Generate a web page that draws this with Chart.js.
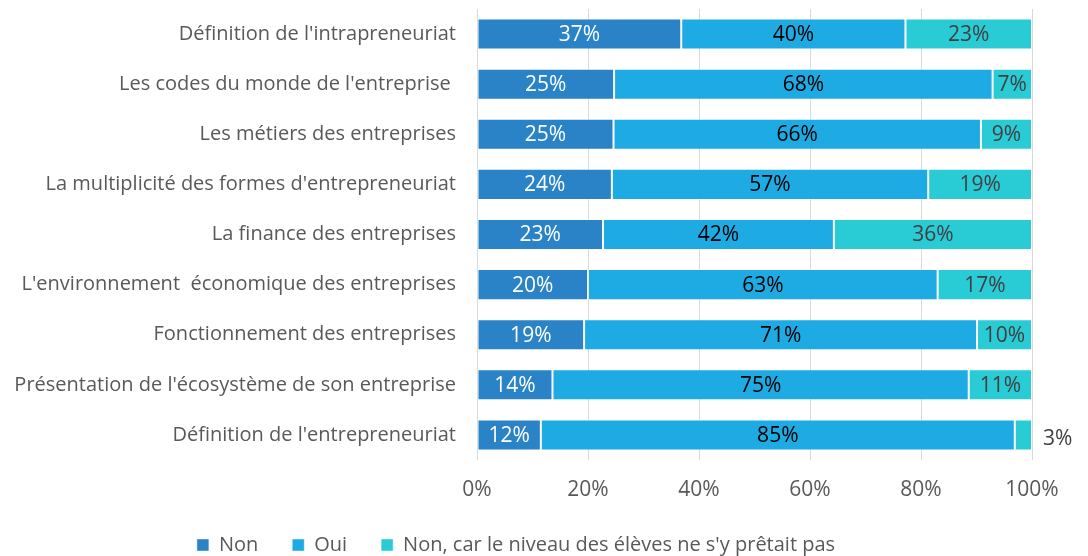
<!DOCTYPE html>
<html>
<head>
<meta charset="utf-8">
<script src="https://cdn.jsdelivr.net/npm/chart.js@4"></script>
<style>
  html, body { margin: 0; padding: 0; background: #fff; }
  #wrap { width: 1088px; height: 556px; }
</style>
</head>
<body>
<div id="wrap"><canvas id="chart"></canvas></div>
<script>
const categories = [
    "Définition de l'intrapreneuriat",
    "Les codes du monde de l'entreprise ",
    "Les métiers des entreprises",
    "La multiplicité des formes d'entrepreneuriat",
    "La finance des entreprises",
    "L'environnement  économique des entreprises",
    "Fonctionnement des entreprises",
    "Présentation de l'écosystème de son entreprise",
    "Définition de l'entrepreneuriat",
];
const seriesNames = ['Non', 'Oui', "Non, car le niveau des élèves ne s'y prêtait pas"];
const nonValues = [36.8, 24.7, 24.6, 24.3, 22.7, 20.0, 19.3, 13.6, 11.5];
const ouiValues = [40.4, 68.2, 66.2, 57.0, 41.6, 63.0, 70.8, 75.0, 85.4];
const niveauValues = [22.8, 7.1, 9.2, 18.7, 35.7, 17.0, 9.9, 11.4, 3.1];
const xTicks = [0, 20, 40, 60, 80, 100];

const colors = ['#2983C6', '#1EAAE2', '#29CBD5'];
const labelColors = ['#ffffff', '#000000', '#404040'];
const font = "'Open Sans', sans-serif";

// % labels inside each segment, outside on the right when it does not fit
const segmentLabels = {
    id: 'segmentLabels',
    afterDatasetsDraw(chart) {
        const ctx = chart.ctx;
        ctx.save();
        ctx.font = '21px ' + font;
        ctx.textBaseline = 'middle';
        chart.data.datasets.forEach((ds, di) => {
            chart.getDatasetMeta(di).data.forEach((bar, i) => {
                const txt = Math.round(ds.data[i]) + '%';
                const w = Math.abs(bar.x - bar.base);
                const tw = ctx.measureText(txt).width;
                if (tw + 4 < w) {
                    ctx.fillStyle = labelColors[di];
                    ctx.textAlign = 'center';
                    ctx.fillText(txt, (bar.x + bar.base) / 2, bar.y + 1);
                } else {
                    ctx.fillStyle = '#404040';
                    ctx.textAlign = 'left';
                    ctx.fillText(txt, bar.x + 11, bar.y + 4);
                }
            });
        });
        ctx.restore();
    }
};

const allValues = [nonValues, ouiValues, niveauValues];

new Chart(document.getElementById('chart'), {
    type: 'bar',
    data: {
        labels: categories,
        datasets: seriesNames.map((name, i) => ({
            label: name,
            data: allValues[i],
            backgroundColor: colors[i],
            borderColor: 'rgba(255,255,255,0.45)',
            borderWidth: 1,
            borderSkipped: false,
            barPercentage: 0.62,
            categoryPercentage: 1,
        }))
    },
    options: {
        indexAxis: 'y',
        responsive: true,
        maintainAspectRatio: false,
        animation: false,
        layout: { padding: { top: 9, right: 56, left: 0, bottom: -9 } },
        plugins: {
            tooltip: { enabled: false },
            legend: {
                position: 'bottom',
                labels: {
                    color: '#595959',
                    font: { family: font, size: 20 },
                    boxWidth: 12,
                    boxHeight: 12,
                    padding: 34,
                }
            }
        },
        scales: {
            x: {
                stacked: true,
                min: 0,
                max: 100,
                afterBuildTicks: s => { s.ticks = xTicks.map(v => ({ value: v })); },
                afterFit: s => { s.height = 41; },
                grid: { color: '#d9d9d9', drawTicks: false },
                border: { display: false },
                ticks: {
                    color: '#595959',
                    font: { family: font, size: 21 },
                    padding: 17,
                    callback: v => v + '%'
                }
            },
            y: {
                stacked: true,
                grid: { display: false },
                border: { display: false },
                afterFit: s => { s.width = 477; s.paddingTop = 0; s.paddingBottom = 0; },
                ticks: {
                    color: '#595959',
                    font: { family: font, size: 20 },
                    padding: 13
                }
            }
        }
    },
    plugins: [segmentLabels]
});
</script>
</body>
</html>
